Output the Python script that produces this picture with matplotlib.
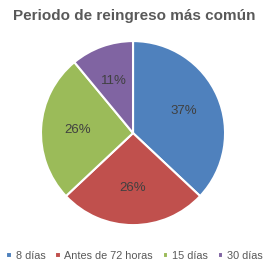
import matplotlib
matplotlib.use("Agg")
import matplotlib.pyplot as plt

categories = ["8 días", "Antes de 72 horas", "15 días", "30 días"]
values = [37, 26, 26, 11]
colors = ["#4F81BD", "#C0504D", "#9BBB59", "#8064A2"]

plt.rcParams["font.family"] = ["Liberation Sans", "DejaVu Sans"]

fig = plt.figure(figsize=(2.69, 2.73), dpi=100)
fig.patch.set_facecolor("white")
ax = fig.add_axes([0.149, 0.172, 0.691, 0.681])
wedges, texts, autotexts = ax.pie(
    values, colors=colors, startangle=90, counterclock=False,
    autopct="%d%%", pctdistance=0.6,
    wedgeprops=dict(edgecolor="white", linewidth=1.5))
for t in autotexts:
    t.set_color("#404040"); t.set_fontsize(9.5)
ax.set_xlim(-1.01, 1.01); ax.set_ylim(-1.01, 1.01)
ax.set_aspect("equal")

fig.text(0.5, 0.943, "Periodo de reingreso más común", ha="center", va="center",
         fontsize=11, weight="bold", color="#595959")
fig.legend(wedges, categories, loc="center", bbox_to_anchor=(0.5, 0.062), ncol=4,
           frameon=False, fontsize=7.8, handlelength=0.5, handleheight=0.5,
           handletextpad=0.35, columnspacing=0.9, labelcolor="#595959",
           borderpad=0, borderaxespad=0)
fig.savefig("out.png", dpi=100, facecolor="white")
